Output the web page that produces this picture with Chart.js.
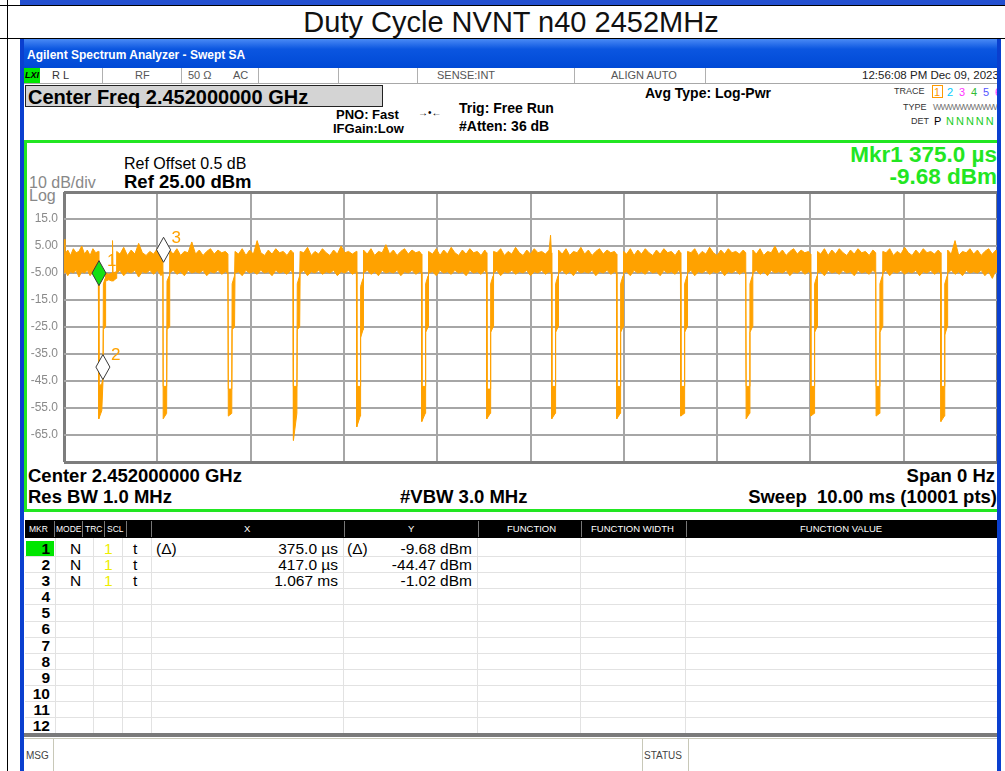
<!DOCTYPE html>
<html><head><meta charset="utf-8">
<script src="https://cdn.jsdelivr.net/npm/chart.js@4.4.0/dist/chart.umd.min.js"></script>
<style>
*{box-sizing:border-box}
html,body{margin:0;padding:0;background:#fff;width:1005px;height:771px;overflow:hidden;font-family:"Liberation Sans",Arial,sans-serif;}
.a{position:absolute}
.t{position:absolute;white-space:nowrap;line-height:1}
.b{font-weight:bold}
.hd{position:absolute;top:520px;height:18px;line-height:18px;color:#fff;font-size:9.5px;white-space:nowrap}
</style></head><body>
<!-- outer frame -->
<div class="a" style="left:20px;top:0;width:985px;height:5px;background:#2450d0"></div>
<div class="a" style="left:0;top:5px;width:1005px;height:1px;background:#000"></div>
<div class="a" style="left:0;top:38px;width:1005px;height:1px;background:#000"></div>
<div class="a" style="left:7px;top:0;width:1px;height:771px;background:#000"></div>
<div class="t" style="left:0;width:1022px;text-align:center;top:8px;font-size:29px;color:#111">Duty Cycle NVNT n40 2452MHz</div>

<div class="a" id="ana" style="left:0;top:0;width:997px;height:771px;overflow:hidden">
  <!-- title bar -->
  <div class="a" style="left:20px;top:39px;width:981px;height:29px;background:linear-gradient(#4a8af5,#0b56e0 35%,#0049d6)"></div>
  <div class="t b" style="left:27px;top:49px;font-size:12px;color:#fff">Agilent Spectrum Analyzer - Swept SA</div>
  <!-- status row -->
  <div class="a" style="left:24px;top:68px;width:975px;height:16px;background:#fff;border-bottom:1px solid #a8a8a8"></div>
  <div class="a" style="left:24px;top:68px;width:16px;height:15px;background:#00e600"></div>
  <div class="t b" style="left:25px;top:71px;font-size:9px;font-style:italic;color:#000">LXI</div>
  <div class="a" style="left:102px;top:68px;width:1px;height:15px;background:#b0b0b0"></div>
  <div class="a" style="left:181px;top:68px;width:1px;height:15px;background:#b0b0b0"></div>
  <div class="a" style="left:258px;top:68px;width:1px;height:15px;background:#b0b0b0"></div>
  <div class="a" style="left:338px;top:68px;width:1px;height:15px;background:#b0b0b0"></div>
  <div class="a" style="left:417px;top:68px;width:1px;height:15px;background:#b0b0b0"></div>
  <div class="a" style="left:574px;top:68px;width:1px;height:15px;background:#b0b0b0"></div>
  <div class="a" style="left:705px;top:68px;width:1px;height:15px;background:#b0b0b0"></div>
  <div class="t" style="left:52px;top:70px;font-size:11px;color:#333">R L</div>
  <div class="t" style="left:135px;top:70px;font-size:11px;color:#555">RF</div>
  <div class="t" style="left:188px;top:70px;font-size:11px;color:#555">50 Ω</div>
  <div class="t" style="left:233px;top:70px;font-size:11px;color:#555">AC</div>
  <div class="t" style="left:437px;top:70px;font-size:11px;color:#555">SENSE:INT</div>
  <div class="t" style="left:611px;top:70px;font-size:11px;color:#555">ALIGN AUTO</div>
  <div class="t" style="left:862px;top:70px;font-size:11.5px;color:#222">12:56:08 PM Dec 09, 2023</div>
  <!-- settings -->
  <div class="a" style="left:25px;top:85px;width:358px;height:22px;background:#d4d4d4;border:1px solid #222"></div>
  <div class="t b" style="left:28px;top:86.5px;font-size:20px;color:#000">Center Freq 2.452000000 GHz</div>
  <div class="t b" style="left:336px;top:107.5px;font-size:13px;color:#000">PNO: Fast</div>
  <div class="t b" style="left:333px;top:121.5px;font-size:13px;color:#000">IFGain:Low</div>
  <div class="t" style="left:418px;top:108px;font-size:10px;color:#000">→•←</div>
  <div class="t b" style="left:459px;top:101px;font-size:14px;color:#000">Trig: Free Run</div>
  <div class="t b" style="left:459px;top:119px;font-size:14px;color:#000">#Atten: 36 dB</div>
  <div class="t b" style="left:645px;top:86px;font-size:14px;color:#000">Avg Type: Log-Pwr</div>
  <div class="t" style="left:894px;top:87px;font-size:9px;color:#333">TRACE</div>
  <div class="a" style="left:932px;top:85px;width:11px;height:13px;border:1px solid #ff9900"></div>
  <div class="t" style="left:934px;top:87px;font-size:11px;color:#ff9900">1</div>
  <div class="t" style="left:947px;top:87px;font-size:11px;color:#00ccff">2</div>
  <div class="t" style="left:959px;top:87px;font-size:11px;color:#ff33ff">3</div>
  <div class="t" style="left:971px;top:87px;font-size:11px;color:#33bb33">4</div>
  <div class="t" style="left:983px;top:87px;font-size:11px;color:#5555ff">5</div>
  <div class="t" style="left:995px;top:87px;font-size:11px;color:#ff33ff">6</div>
  <div class="t" style="left:903px;top:103px;font-size:9px;color:#333">TYPE</div>
  <div class="t" style="left:933px;top:103px;font-size:9px;color:#777;letter-spacing:-1px">WWWWWWWWWW</div>
  <div class="t" style="left:911px;top:117px;font-size:9px;color:#333">DET</div>
  <div class="t" style="left:934px;top:116px;font-size:11px;color:#000">P</div>
  <div class="t" style="left:946px;top:116px;font-size:11px;color:#22cc22;letter-spacing:2px">NNNNN</div>

  <!-- graph panel -->
  <div class="a" style="left:24px;top:140px;width:976px;height:372px;border:3px solid #22e622;background:#fff"></div>
  <div class="t" style="left:124px;top:156px;font-size:16px;color:#000">Ref Offset 0.5 dB</div>
  <div class="t b" style="left:124px;top:172.5px;font-size:18.5px;color:#000">Ref 25.00 dBm</div>
  <div class="t" style="left:29px;top:175px;font-size:16px;color:#888">10 dB/div</div>
  <div class="t" style="left:29px;top:188px;font-size:16px;color:#888">Log</div>
  <div class="t b" style="right:0;top:144px;font-size:22.5px;color:#22e622">Mkr1 375.0 µs</div>
  <div class="t b" style="right:0;top:165.5px;font-size:22.5px;color:#22e622">-9.68 dBm</div>
  <div class="t b" style="left:28px;top:467px;font-size:18.5px;color:#000">Center 2.452000000 GHz</div>
  <div class="t b" style="right:2px;top:467px;font-size:18.5px;color:#000">Span 0 Hz</div>
  <div class="t b" style="left:28px;top:488px;font-size:18.5px;color:#000">Res BW 1.0 MHz</div>
  <div class="t b" style="left:400px;top:488px;font-size:18.5px;color:#000">#VBW 3.0 MHz</div>
  <div class="t b" style="right:0;top:488px;font-size:18.5px;color:#000">Sweep&nbsp; 10.00 ms (10001 pts)</div>
  <div class="a" style="left:24px;top:187px"><canvas id="c" width="976" height="282" style="width:976px;height:282px;display:block"></canvas></div>

  <!-- marker table -->
  <div class="a" style="left:25px;top:520px;width:975px;height:18px;background:#000"></div>
  <div id="tbl"></div>
  <div class="a" style="left:24px;top:733px;width:976px;height:4px;background:#7a7a7a"></div>
  <div class="a" style="left:24px;top:738px;width:976px;height:1px;background:#c8c8b8"></div>
  <div class="a" style="left:53px;top:739px;width:1px;height:32px;background:#c8c8b8"></div>
  <div class="a" style="left:642px;top:739px;width:1px;height:32px;background:#c8c8b8"></div>
  <div class="a" style="left:688px;top:739px;width:1px;height:32px;background:#c8c8b8"></div>
  <div class="t" style="left:26px;top:751px;font-size:10px;color:#444">MSG</div>
  <div class="t" style="left:644px;top:751px;font-size:10px;color:#444">STATUS</div>
</div>
<div class="a" style="left:20px;top:39px;width:4px;height:732px;background:#0a3fcf"></div>
<div class="a" style="left:997px;top:39px;width:4px;height:732px;background:#0a3fcf"></div>

<script>
// ---------------- data ----------------
const sweepRangeMs = [0, 10];
const levelRangeDbm = [-75, 25];
const yTickValues = [15, 5, -5, -15, -25, -35, -45, -55, -65];
const yTickLabels = ['15.0', '5.00', '-5.00', '-15.0', '-25.0', '-35.0', '-45.0', '-55.0', '-65.0'];

// trace envelope samples: [time ms, low dBm, high dBm]
const traceSamples = [
 // burst 0
 [0.000,-5,7.5],[0.010,-4,2],[0.040,-6,3.5],[0.070,-4.5,1.5],[0.100,-5,4],[0.130,-4,2.5],[0.160,-6.5,3],[0.190,-4.5,5],[0.220,-5,2],[0.250,-4,3.5],[0.280,-6,1.5],[0.310,-4.5,4],[0.340,-5,2.5],[0.368,-4,3],
 // gap 1
 [0.373,-59,-47],[0.405,-56,-46],[0.418,-45,-44],[0.422,-26,-9],[0.440,-25,-7],
 [0.446,-8,-5],[0.480,-7.5,-5.5],[0.515,-8,-5],[0.520,-7,7],[0.526,-8,-5],[0.560,-7,-4.5],
 // burst 1
 [0.565,-5,3],[0.600,-4,2],[0.640,-6,4.5],[0.680,-4.5,1.5],[0.720,-5,3.5],[0.760,-4,2],[0.800,-6.5,6],[0.840,-4.5,2.5],[0.880,-5,1.5],[0.920,-4,3],[0.960,-5.5,2],[1.000,-4,4],[1.040,-6,2.5],[1.060,-4.5,3],
 // gap 2
 [1.063,-59,-47],[1.100,-57,-47],[1.104,-26,-8],[1.128,-25,-6],
 // burst 2
 [1.133,-5,3.5],[1.170,-4,2],[1.210,-5.5,4],[1.250,-4.5,1.5],[1.290,-6,3],[1.330,-4,2.5],[1.370,-5,6.5],[1.410,-4.5,2],[1.450,-5,3.5],[1.490,-4,1.5],[1.530,-6,3],[1.570,-4.5,4],[1.610,-5,2],[1.650,-4,3.5],[1.690,-5.5,2.5],[1.730,-4.5,3],[1.757,-5,2],
 // gap 3
 [1.761,-58,-48],[1.798,-57,-48],[1.802,-26,-9],[1.828,-25,-6],
 // burst 3
 [1.833,-5,3],[1.870,-4.5,2],[1.910,-6,4],[1.950,-4,1.5],[1.990,-5,3.5],[2.030,-4.5,2],[2.070,-5.5,7],[2.110,-4,2.5],[2.150,-5,1.5],[2.190,-4.5,3.5],[2.230,-6,2],[2.270,-4,4],[2.310,-5,2.5],[2.350,-4.5,3],[2.390,-5.5,1.5],[2.430,-4,3.5],[2.455,-5,2.5],
 // gap 4
 [2.459,-67,-47],[2.496,-57,-47],[2.500,-26,-9],[2.526,-25,-6],
 // burst 4
 [2.531,-5,3],[2.570,-4,2.5],[2.610,-6,4.5],[2.650,-4.5,1.5],[2.690,-5,3],[2.730,-4,2],[2.770,-5.5,4],[2.810,-4.5,2.5],[2.850,-5,1.5],[2.890,-4,3.5],[2.930,-6,2],[2.970,-4.5,5],[3.010,-5,2.5],[3.050,-4,3],[3.090,-5.5,2],[3.134,-4.5,3],
 // gap 5
 [3.138,-62,-47],[3.175,-58,-47],[3.179,-29,-10],[3.205,-26,-7],
 // burst 5
 [3.210,-5,3.5],[3.250,-4,2],[3.290,-5.5,4],[3.330,-4.5,1.5],[3.370,-6,3],[3.410,-4,2.5],[3.450,-5,5.5],[3.490,-4.5,2],[3.530,-5,3.5],[3.570,-4,1.5],[3.610,-6,3],[3.650,-4.5,4],[3.690,-5,2],[3.730,-4,3.5],[3.770,-5.5,2.5],[3.810,-4.5,3],[3.831,-5,2],
 // gap 6
 [3.835,-60,-47],[3.872,-57,-47],[3.876,-27,-9],[3.902,-25,-6],
 // burst 6
 [3.907,-5,3],[3.950,-4.5,2],[3.990,-6,4],[4.030,-4,1.5],[4.070,-5,3.5],[4.110,-4.5,2],[4.150,-5.5,4.5],[4.190,-4,2.5],[4.230,-5,1.5],[4.270,-4.5,3.5],[4.310,-6,2],[4.350,-4,4],[4.390,-5,2.5],[4.430,-4.5,3],[4.470,-5.5,1.5],[4.510,-4,3.5],[4.528,-5,2.5],
 // gap 7
 [4.532,-59,-48],[4.569,-57,-48],[4.573,-27,-9],[4.599,-25,-6],
 // burst 7
 [4.604,-5,3],[4.640,-4,2.5],[4.680,-6,4],[4.720,-4.5,1.5],[4.760,-5,3],[4.800,-4,2],[4.840,-5.5,4.5],[4.880,-4.5,2.5],[4.920,-5,1.5],[4.960,-4,3.5],[5.000,-6,2],[5.040,-4.5,4],[5.080,-5,2.5],[5.120,-4,3],[5.160,-5.5,2],[5.200,-4.5,3.5],[5.215,-5,9],[5.224,-5,2.5],
 // gap 8
 [5.228,-59,-47],[5.265,-57,-47],[5.269,-27,-9],[5.295,-25,-6],
 // burst 8
 [5.300,-5,3.5],[5.340,-4,2],[5.380,-5.5,4],[5.420,-4.5,1.5],[5.460,-6,3],[5.500,-4,2.5],[5.540,-5,4.5],[5.580,-4.5,2],[5.620,-5,3.5],[5.660,-4,1.5],[5.700,-6,3],[5.740,-4.5,4],[5.780,-5,2],[5.820,-4,3.5],[5.860,-5.5,2.5],[5.900,-4.5,3],[5.921,-5,2],
 // gap 9
 [5.925,-59,-47],[5.962,-57,-47],[5.966,-27,-9],[5.992,-25,-6],
 // burst 9
 [5.997,-5,3],[6.030,-4.5,2],[6.070,-6,4],[6.110,-4,1.5],[6.150,-5,3.5],[6.190,-4.5,2],[6.230,-5.5,4],[6.270,-4,2.5],[6.310,-5,1.5],[6.350,-4.5,3.5],[6.390,-6,2],[6.430,-4,4],[6.470,-5,2.5],[6.510,-4.5,3],[6.550,-5.5,1.5],[6.590,-4,3.5],[6.607,-5,2.5],
 // gap 10
 [6.611,-58,-47],[6.648,-57,-47],[6.652,-27,-9],[6.678,-25,-6],
 // burst 10
 [6.683,-5,3],[6.720,-4,2.5],[6.760,-6,4],[6.800,-4.5,1.5],[6.840,-5,3],[6.880,-4,2],[6.920,-5.5,4.5],[6.960,-4.5,2.5],[7.000,-5,1.5],[7.040,-4,3.5],[7.080,-6,2],[7.120,-4.5,4],[7.160,-5,2.5],[7.200,-4,3],[7.240,-5.5,2],[7.280,-4.5,3.5],[7.307,-5,2.5],
 // gap 11
 [7.311,-59,-47],[7.348,-57,-47],[7.352,-27,-9],[7.378,-25,-6],
 // burst 11
 [7.383,-5,3.5],[7.420,-4,2],[7.460,-5.5,4],[7.500,-4.5,1.5],[7.540,-6,3],[7.580,-4,2.5],[7.620,-5,5],[7.660,-4.5,2],[7.700,-5,3.5],[7.740,-4,1.5],[7.780,-6,3],[7.820,-4.5,4],[7.860,-5,2],[7.900,-4,3.5],[7.940,-5.5,2.5],[7.980,-4.5,3],[8.000,-5,2],
 // gap 12
 [8.004,-58,-47],[8.041,-57,-47],[8.045,-27,-9],[8.071,-25,-6],
 // burst 12
 [8.076,-5,3],[8.110,-4.5,2],[8.150,-6,4],[8.190,-4,1.5],[8.230,-5,3.5],[8.270,-4.5,2],[8.310,-5.5,4],[8.350,-4,2.5],[8.390,-5,1.5],[8.430,-4.5,3.5],[8.470,-6,2],[8.510,-4,4],[8.550,-5,2.5],[8.590,-4.5,3],[8.630,-5.5,1.5],[8.670,-4,3.5],[8.700,-5,2.5],
 // gap 13
 [8.704,-58,-47],[8.741,-57,-47],[8.745,-27,-9],[8.771,-25,-6],
 // burst 13
 [8.776,-5,3],[8.810,-4,2.5],[8.850,-6,4],[8.890,-4.5,1.5],[8.930,-5,3],[8.970,-4,2],[9.010,-5.5,4.5],[9.050,-4.5,2.5],[9.090,-5,1.5],[9.130,-4,3.5],[9.170,-6,2],[9.210,-4.5,4],[9.250,-5,2.5],[9.290,-4,3],[9.330,-5.5,2],[9.370,-4.5,3.5],[9.395,-5,2.5],
 // gap 14
 [9.399,-60,-47],[9.436,-58,-47],[9.440,-28,-9],[9.466,-25,-6],
 // burst 14
 [9.471,-5,3.5],[9.510,-4,2],[9.550,-5.5,7],[9.590,-4.5,1.5],[9.630,-6,3],[9.670,-4,2.5],[9.710,-5,4],[9.750,-4.5,2],[9.790,-5,3.5],[9.830,-4,1.5],[9.870,-6,3],[9.910,-4.5,4],[9.950,-7,2],[9.990,-4,3.5],[10.000,-5,2.5]
];

// markers
const markerNames = ['1', '2', '3'];
const markerTimeMs = [0.375, 0.417, 1.067];
const markerLevelDbm = [-9.68, -44.47, -1.02];

// marker table
const tableMode = ['N', 'N', 'N'];
const tableTrace = ['1', '1', '1'];
const tableScale = ['t', 't', 't'];
const tableXPrefix = ['(Δ)', '', ''];
const tableX = ['375.0 µs', '417.0 µs', '1.067 ms'];
const tableYPrefix = ['(Δ)', '', ''];
const tableY = ['-9.68 dBm', '-44.47 dBm', '-1.02 dBm'];
const tableRows = 12;
const headerLabels = [['MKR',29,8.5],['MODE',56,8.5],['TRC',85,8.5],['SCL',107,8.5],['X',244,9.5],['Y',408,9.5],['FUNCTION',507,9.5],['FUNCTION WIDTH',591,9.5],['FUNCTION VALUE',800,9.5]];

// ---------------- table DOM ----------------
(function(){
  const W = 997; // container width for right-aligned text
  const tbl = document.getElementById('tbl');
  let h = '';
  [54,82,104,126,151,344,478,581,686].forEach(x=>{ h += `<div class="a" style="left:${x}px;top:521px;width:1px;height:16px;background:#777"></div>`; });
  headerLabels.forEach(([s,x,f])=>{ h += `<div class="hd" style="left:${x}px;font-size:${f}px">${s}</div>`; });
  const rowTop = 540, rowH = 16.1, fs = 15.5;
  h += `<div class="a" style="left:26px;top:${rowTop+1}px;width:28px;height:15px;background:#00e600"></div>`;
  for (let i=0;i<tableRows;i++){
    const top = rowTop + i*rowH;
    h += `<div class="a" style="left:25px;top:${(top+rowH).toFixed(1)}px;width:975px;height:1px;background:#e2e2e2"></div>`;
    const ty = (top + 8.5 - fs*0.49).toFixed(1);
    h += `<div class="t b" style="right:${W-50}px;top:${ty}px;font-size:${fs}px;color:#000">${i+1}</div>`;
    if (i < tableX.length){
      h += `<div class="t" style="left:70px;top:${ty}px;font-size:${fs}px">${tableMode[i]}</div>`;
      h += `<div class="t" style="left:104px;top:${ty}px;font-size:${fs}px;color:#eeee00">${tableTrace[i]}</div>`;
      h += `<div class="t" style="left:133px;top:${ty}px;font-size:${fs}px">${tableScale[i]}</div>`;
      h += `<div class="t" style="left:156px;top:${ty}px;font-size:${fs}px">${tableXPrefix[i]}</div>`;
      h += `<div class="t" style="right:${W-338}px;top:${ty}px;font-size:${fs}px">${tableX[i]}</div>`;
      h += `<div class="t" style="left:347px;top:${ty}px;font-size:${fs}px">${tableYPrefix[i]}</div>`;
      h += `<div class="t" style="right:${W-472}px;top:${ty}px;font-size:${fs}px">${tableY[i]}</div>`;
    }
  }
  [55,93,122,151,343,477,580,685].forEach(x=>{ h += `<div class="a" style="left:${x}px;top:538px;width:1px;height:195px;background:#e2e2e2"></div>`; });
  tbl.innerHTML = h;
})();

// ---------------- chart ----------------
const ORANGE = '#ffa200';
const highPts = traceSamples.map(r => ({x: r[0], y: r[2]}));
const lowPts = traceSamples.map(r => ({x: r[0], y: r[1]}));

const markerPlugin = {
  id: 'markers',
  afterDatasetsDraw(chart){
    const {ctx, scales:{x, y}} = chart;
    markerTimeMs.forEach((t, i) => {
      const px = x.getPixelForValue(t), py = y.getPixelForValue(markerLevelDbm[i]);
      ctx.save();
      ctx.beginPath();
      ctx.moveTo(px, py - 25); ctx.lineTo(px + 7, py - 12.5); ctx.lineTo(px, py); ctx.lineTo(px - 7, py - 12.5);
      ctx.closePath();
      ctx.fillStyle = i === 0 ? '#14e014' : '#ffffff';
      ctx.fill();
      ctx.strokeStyle = '#3a3a3a'; ctx.lineWidth = 1; ctx.stroke();
      ctx.fillStyle = ORANGE;
      ctx.font = '17px "Liberation Sans", Arial, sans-serif';
      ctx.textBaseline = 'middle';
      ctx.fillText(markerNames[i], px + 8, py - 24);
      ctx.restore();
    });
  }
};

const edgeColor = '#7d7d7d', gridColor = '#a6a6a6';
new Chart(document.getElementById('c'), {
  type: 'scatter',
  data: { datasets: [
    { data: highPts, showLine: true, borderColor: ORANGE, borderWidth: 1, pointRadius: 0, fill: false, tension: 0 },
    { data: lowPts, showLine: true, borderColor: ORANGE, borderWidth: 1, pointRadius: 0, fill: '-1', backgroundColor: ORANGE, tension: 0 }
  ]},
  options: {
    animation: false, responsive: false, maintainAspectRatio: false,
    events: [],
    plugins: { legend: { display: false }, tooltip: { enabled: false } },
    layout: { padding: { top: 5, right: 3, bottom: 7, left: 0 } },
    scales: {
      x: {
        type: 'linear', min: sweepRangeMs[0], max: sweepRangeMs[1],
        ticks: { display: false, stepSize: 1 },
        border: { display: false },
        afterFit: s => { s.height = 0; s.paddingLeft = 0; s.paddingRight = 0; },
        grid: { drawTicks: false,
          color: c => (c.tick && (c.tick.value === sweepRangeMs[0] || c.tick.value === sweepRangeMs[1])) ? edgeColor : gridColor,
          lineWidth: c => (c.tick && (c.tick.value === sweepRangeMs[0] || c.tick.value === sweepRangeMs[1])) ? 3 : 2 }
      },
      y: {
        type: 'linear', min: levelRangeDbm[0], max: levelRangeDbm[1],
        afterFit: s => { s.width = 40; s.paddingTop = 0; s.paddingBottom = 0; },
        ticks: { stepSize: 10, padding: 6, color: '#8a8a8a', font: { family: '"Liberation Sans", Arial, sans-serif', size: 12 },
          callback: v => { const i = yTickValues.indexOf(v); return i >= 0 ? yTickLabels[i] : ''; } },
        border: { display: false },
        grid: { drawTicks: false,
          color: c => (c.tick && (c.tick.value === levelRangeDbm[0] || c.tick.value === levelRangeDbm[1])) ? edgeColor : gridColor,
          lineWidth: c => (c.tick && (c.tick.value === levelRangeDbm[0] || c.tick.value === levelRangeDbm[1])) ? 3 : 2 }
      }
    }
  },
  plugins: [markerPlugin]
});
</script>
</body></html>
